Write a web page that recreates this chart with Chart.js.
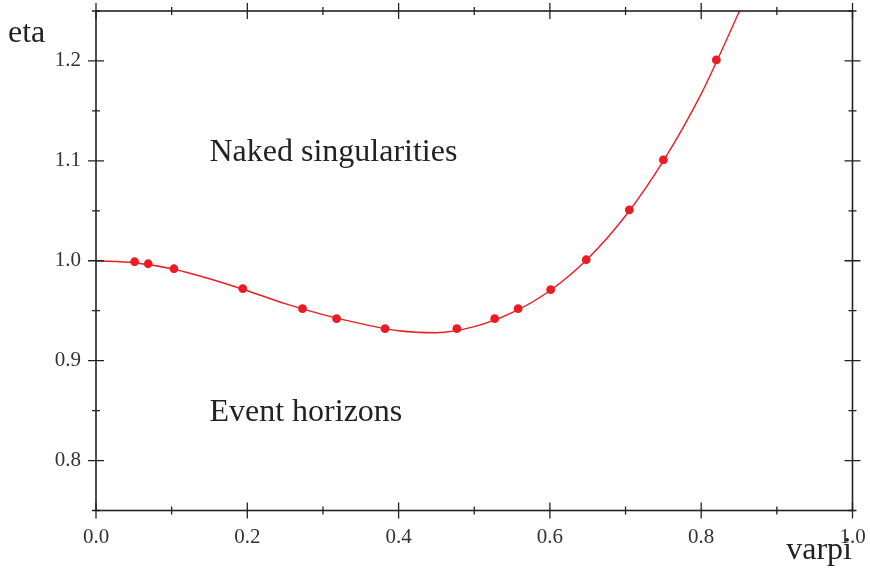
<!DOCTYPE html>
<html>
<head>
<meta charset="utf-8">
<script src="https://cdn.jsdelivr.net/npm/chart.js@4/dist/chart.umd.min.js"></script>
<style>
    body { margin: 0; background: #ffffff; }
    #wrap { width: 870px; height: 571px; }
</style>
</head>
<body>
<div id="wrap"><canvas id="etaChart" width="870" height="571"></canvas></div>
<script>
// measured points
var varpiPoints = [0.051, 0.069, 0.103, 0.194, 0.273, 0.318, 0.382, 0.477, 0.527, 0.558, 0.601, 0.648, 0.705, 0.750, 0.820];
var etaPoints = [0.999, 0.997, 0.992, 0.972, 0.952, 0.942, 0.932, 0.932, 0.942, 0.952, 0.971, 1.001, 1.051, 1.101, 1.201];

// boundary curve
var varpiCurve = [0.00, 0.05, 0.10, 0.15, 0.20, 0.25, 0.30, 0.35, 0.40, 0.45, 0.50, 0.55, 0.60, 0.65, 0.70, 0.75, 0.80, 0.85, 0.87];
var etaCurve = [1.000, 0.998, 0.992, 0.982, 0.970, 0.957, 0.946, 0.937, 0.930, 0.928, 0.934, 0.948, 0.970, 1.002, 1.045, 1.100, 1.167, 1.249, 1.283];

var xMajor = [0.0, 0.2, 0.4, 0.6, 0.8, 1.0];
var xMinor = [0.1, 0.3, 0.5, 0.7, 0.9];
var yMajor = [0.8, 0.9, 1.0, 1.1, 1.2];
var yMinor = [0.75, 0.85, 0.95, 1.05, 1.15, 1.25];

var regionLabels = ["Naked singularities", "Event horizons"];
var regionX = [0.15, 0.15];
var regionY = [1.1, 0.84];

var serif = "'Liberation Serif', 'DejaVu Serif', serif";
var red = "#ec1c24";
var ink = "#222222";

function toXY(xs, ys) {
    var out = [];
    for (var i = 0; i < xs.length; i++) {
        out.push({ x: xs[i], y: ys[i] });
    }
    return out;
}

// frame, crossing ticks and the text labels
var framePlugin = {
    id: "frame",
    afterDatasetsDraw: function (chart) {
        var ctx = chart.ctx;
        var a = chart.chartArea;
        var xs = chart.scales.x;
        var ys = chart.scales.y;
        ctx.save();
        ctx.strokeStyle = ink;
        ctx.lineWidth = 1.6;
        ctx.strokeRect(a.left, a.top, a.right - a.left, a.bottom - a.top);

        function tickX(v, len) {
            var px = xs.getPixelForValue(v);
            ctx.beginPath();
            ctx.moveTo(px, a.bottom - len); ctx.lineTo(px, a.bottom + len);
            ctx.moveTo(px, a.top - len); ctx.lineTo(px, a.top + len);
            ctx.stroke();
        }
        function tickY(v, len) {
            var py = ys.getPixelForValue(v);
            ctx.beginPath();
            ctx.moveTo(a.left - len, py); ctx.lineTo(a.left + len, py);
            ctx.moveTo(a.right - len, py); ctx.lineTo(a.right + len, py);
            ctx.stroke();
        }
        ctx.lineWidth = 1.3;
        xMajor.forEach(function (v) { tickX(v, 8); });
        xMinor.forEach(function (v) { tickX(v, 4); });
        yMajor.forEach(function (v) { tickY(v, 8); });
        yMinor.forEach(function (v) { tickY(v, 4); });

        ctx.fillStyle = ink;
        ctx.textBaseline = "alphabetic";
        ctx.font = "32px " + serif;
        ctx.textAlign = "left";
        for (var i = 0; i < regionLabels.length; i++) {
            ctx.fillText(regionLabels[i], xs.getPixelForValue(regionX[i]), ys.getPixelForValue(regionY[i]));
        }
        ctx.fillText("eta", 8, 42);
        ctx.textAlign = "right";
        ctx.fillText("varpi", 852, 559);
        ctx.restore();
    }
};

var etaCanvas = document.getElementById("etaChart");
var etaChart = new Chart(etaCanvas, {
    type: "scatter",
    data: {
        datasets: [{
            type: "line",
            data: toXY(varpiCurve, etaCurve),
            borderColor: red,
            borderWidth: 1.4,
            pointRadius: 0,
            cubicInterpolationMode: "monotone",
            fill: false
        }, {
            data: toXY(varpiPoints, etaPoints),
            backgroundColor: red,
            borderColor: red,
            pointRadius: 4.4,
            borderWidth: 0
        }]
    },
    plugins: [framePlugin],
    options: {
        responsive: false,
        animation: false,
        layout: {
            padding: { top: 11, right: 17.5, left: 0, bottom: 0 }
        },
        plugins: {
            legend: { display: false },
            tooltip: { enabled: false }
        },
        scales: {
            x: {
                type: "linear",
                min: 0,
                max: 1,
                grid: { display: false },
                border: { display: false },
                afterBuildTicks: function (scale) {
                    scale.ticks = xMajor.map(function (v) { return { value: v }; });
                },
                afterFit: function (scale) {
                    scale.height = 60.5;
                    scale.paddingLeft = 0;
                    scale.paddingRight = 0;
                },
                ticks: {
                    padding: 6,
                    color: "#333333",
                    font: { family: serif, size: 21 },
                    callback: function (v) { return Number(v).toFixed(1); }
                }
            },
            y: {
                type: "linear",
                min: 0.75,
                max: 1.25,
                grid: { display: false },
                border: { display: false },
                afterBuildTicks: function (scale) {
                    scale.ticks = yMajor.map(function (v) { return { value: v }; });
                },
                afterFit: function (scale) {
                    scale.width = 96;
                    scale.paddingTop = 0;
                    scale.paddingBottom = 0;
                },
                ticks: {
                    padding: 7,
                    color: "#333333",
                    font: { family: serif, size: 21 },
                    callback: function (v) { return Number(v).toFixed(1); }
                }
            }
        }
    }
});
</script>
</body>
</html>
